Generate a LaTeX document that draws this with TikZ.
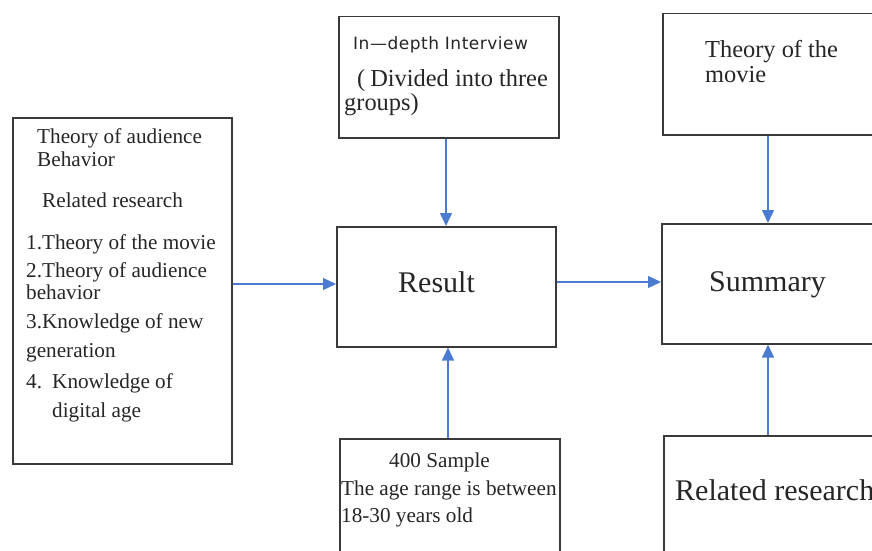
\documentclass[tikz,border=0pt]{standalone}
\usepackage{fontspec}
\setmainfont{Liberation Serif}
\newfontfamily\labelsans[LetterSpace=3]{DejaVu Sans}
\usetikzlibrary{arrows.meta}

\definecolor{linkblue}{HTML}{4A7BD0}
\definecolor{frame}{HTML}{3A3A3A}

\tikzset{
  box/.style={draw=frame, line width=1.5pt, fill=white, rectangle, inner sep=0pt, anchor=north west},
  link/.style={draw=linkblue, line width=1.3pt, -{Triangle[length=13pt,width=12pt]}},
  line/.style={anchor=base west, inner sep=0pt, text=black!85},
  small/.style={line, font=\fontsize{21.2}{21}\selectfont},
  mid/.style={line, font=\fontsize{24.4}{24}\selectfont},
  big/.style={line, font=\fontsize{30}{30}\selectfont},
}

\begin{document}
\begin{tikzpicture}[x=1pt, y=-1pt]
\useasboundingbox (0,0) rectangle (872,551);
\clip (0,0) rectangle (872,551);

% frames
\node[box, minimum width=219pt, minimum height=346pt] (theory)    at (12,117) {};
\node[box, minimum width=220pt, minimum height=121pt] (interview) at (338,16) {};
\node[box, minimum width=219pt, minimum height=120pt] (result)    at (336,226) {};
\node[box, minimum width=220pt, minimum height=130pt] (sample)    at (339,438) {};
\node[box, minimum width=230pt, minimum height=121pt] (movie)     at (662,13) {};
\node[box, minimum width=230pt, minimum height=120pt] (summary)   at (661,223) {};
\node[box, minimum width=230pt, minimum height=130pt] (related)   at (663,435) {};

% left column text
\node[small] (t1)  at (37,143) {Theory of audience};
\node[small] (t2)  at (37,166) {Behavior};
\node[small] (t3)  at (42,207) {Related research};
\node[small] (t4)  at (26,249) {1.Theory of the movie};
\node[small] (t5)  at (26,277) {2.Theory of audience};
\node[small] (t6)  at (26,299) {behavior};
\node[small] (t7)  at (26,328) {3.Knowledge of new};
\node[small] (t8)  at (26,357) {generation};
\node[small] (t9)  at (26,388) {4.};
\node[small] (t10) at (52,388) {Knowledge of};
\node[small] (t11) at (52,417) {digital age};

% interview text
\node[line, font=\labelsans\fontsize{17}{17}\selectfont] (i1) at (353,50) {In—depth Interview};
\node[mid] (i2) at (357,86) {(\hspace{5pt}Divided into three};
\node[mid] (i3) at (344,110) {groups)};

% theory of the movie text
\node[mid] (m1) at (705,57) {Theory of the};
\node[mid] (m2) at (705,82) {movie};

% centre labels
\node[big] (r1) at (398,292) {Result};
\node[big] (s1) at (709,291) {Summary};

% sample text
\node[small] (p1) at (389,467) {400 Sample};
\node[small] (p2) at (341,495) {The age range is between};
\node[small] (p3) at (341,522) {18-30 years old};

% related research text, running past the right edge
\node[big] (q1) at (675,500) {Related research};

% connectors
\draw[link] (theory.east |- 0,284) -- (result.west |- 0,284);
\draw[link] (interview.south -| 446,0) -- (result.north -| 446,0);
\draw[link] (sample.north -| 448,0) -- (result.south -| 448,0);
\draw[link] (result.east |- 0,282) -- (summary.west |- 0,282);
\draw[link] (movie.south -| 768,0) -- (summary.north -| 768,0);
\draw[link] (related.north -| 768,0) -- (summary.south -| 768,0);
\end{tikzpicture}
\end{document}
